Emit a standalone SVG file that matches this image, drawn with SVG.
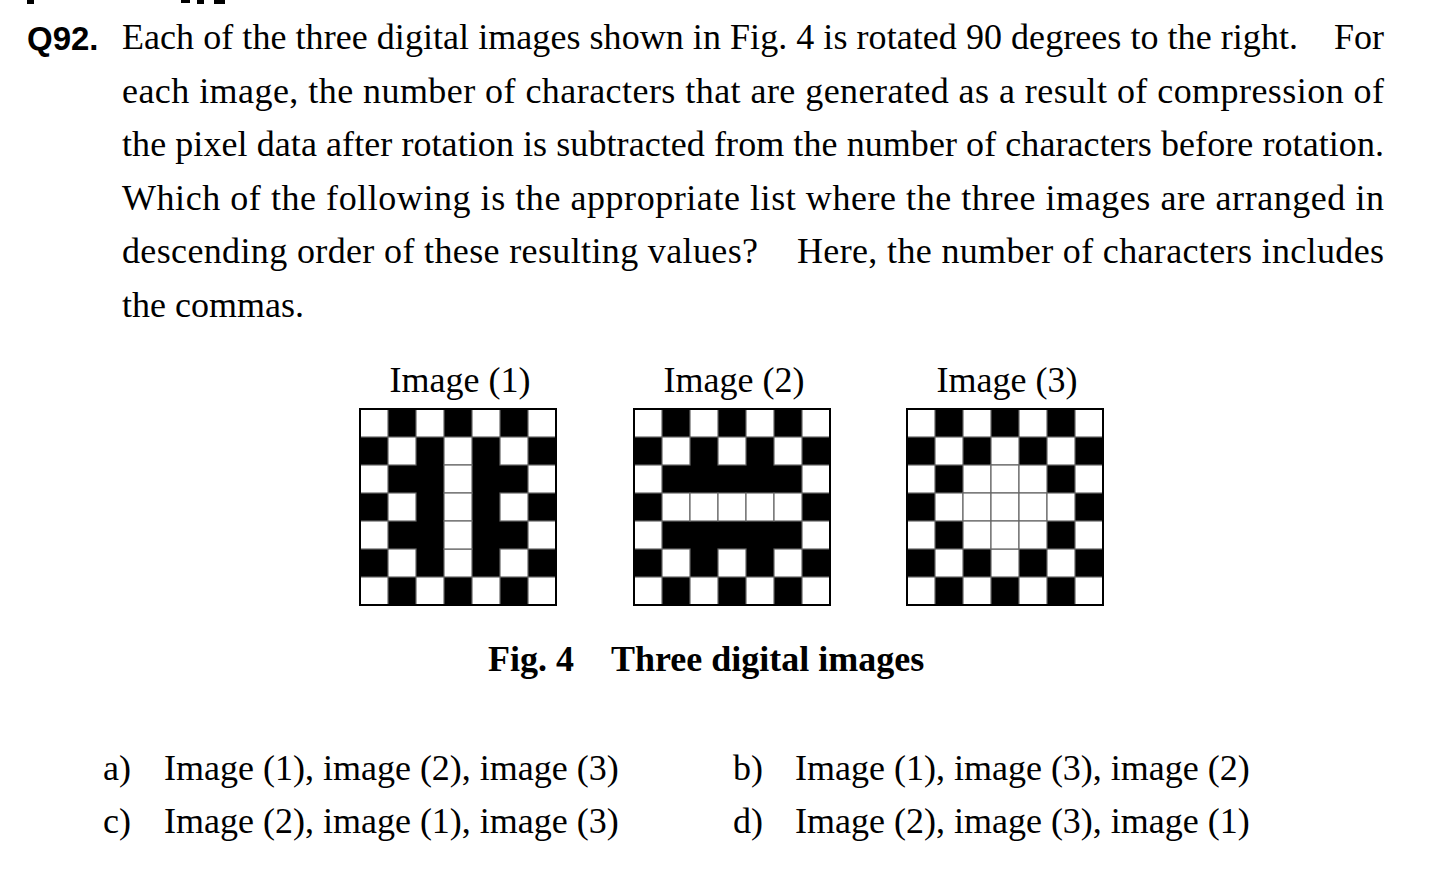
<svg xmlns="http://www.w3.org/2000/svg" xmlns:xlink="http://www.w3.org/1999/xlink" width="1450" height="870" viewBox="0 0 1450 870">
<style>
.t{font-family:"Liberation Serif","Times New Roman",serif;font-size:36px;fill:#000}
.b{font-family:"Liberation Serif","Times New Roman",serif;font-size:36px;font-weight:bold;fill:#000}
.q{font-family:"Liberation Sans",Arial,sans-serif;font-size:33px;font-weight:bold;fill:#000}
.w{fill:#fff;stroke:#666;stroke-width:1.2}
.frame{fill:none;stroke:#000;stroke-width:2}
</style>
<defs>
<rect id="w" class="w" width="28" height="28"/>
<g id="edge">
<use xlink:href="#w" x="0" y="0"/><use xlink:href="#w" x="56" y="0"/><use xlink:href="#w" x="112" y="0"/><use xlink:href="#w" x="168" y="0"/>
<use xlink:href="#w" x="28" y="28"/><use xlink:href="#w" x="84" y="28"/><use xlink:href="#w" x="140" y="28"/>
<use xlink:href="#w" x="28" y="140"/><use xlink:href="#w" x="84" y="140"/><use xlink:href="#w" x="140" y="140"/>
<use xlink:href="#w" x="0" y="168"/><use xlink:href="#w" x="56" y="168"/><use xlink:href="#w" x="112" y="168"/><use xlink:href="#w" x="168" y="168"/>
</g>
</defs>
<rect width="1450" height="870" fill="#fff"/>
<g id="cropped-top" fill="#000">
<rect x="27" y="0" width="7" height="4"/>
<rect x="181" y="0" width="9" height="3"/>
<rect x="197" y="0" width="7" height="4"/>
<rect x="214" y="0" width="11" height="4"/>
</g>
<g id="question">
<text class="q" x="27" y="50">Q92.</text>
<text class="t" x="122" y="49" textLength="1176" lengthAdjust="spacing">Each of the three digital images shown in Fig. 4 is rotated 90 degrees to the right.</text>
<text class="t" x="1384" y="49" text-anchor="end">For</text>
<text class="t" x="122" y="102.6" textLength="1262" lengthAdjust="spacing">each image, the number of characters that are generated as a result of compression of</text>
<text class="t" x="122" y="156.2" textLength="1262" lengthAdjust="spacing">the pixel data after rotation is subtracted from the number of characters before rotation.</text>
<text class="t" x="122" y="209.8" textLength="1262" lengthAdjust="spacing">Which of the following is the appropriate list where the three images are arranged in</text>
<text class="t" x="122" y="263.4" textLength="636" lengthAdjust="spacing">descending order of these resulting values?</text>
<text class="t" x="797" y="263.4" textLength="587" lengthAdjust="spacing">Here, the number of characters includes</text>
<text class="t" x="122" y="317">the commas.</text>
</g>
<g id="image1">
<text class="t" x="460" y="392" text-anchor="middle">Image (1)</text>
<g transform="translate(360,409)">
<rect width="196" height="196" fill="#000"/>
<use xlink:href="#edge"/>
<use xlink:href="#w" x="0" y="56"/><use xlink:href="#w" x="84" y="56"/><use xlink:href="#w" x="168" y="56"/>
<use xlink:href="#w" x="28" y="84"/><use xlink:href="#w" x="84" y="84"/><use xlink:href="#w" x="140" y="84"/>
<use xlink:href="#w" x="0" y="112"/><use xlink:href="#w" x="84" y="112"/><use xlink:href="#w" x="168" y="112"/>
<rect class="frame" width="196" height="196"/>
</g>
</g>
<g id="image2">
<text class="t" x="734" y="392" text-anchor="middle">Image (2)</text>
<g transform="translate(634,409)">
<rect width="196" height="196" fill="#000"/>
<use xlink:href="#edge"/>
<use xlink:href="#w" x="0" y="56"/><use xlink:href="#w" x="168" y="56"/>
<use xlink:href="#w" x="28" y="84"/><use xlink:href="#w" x="56" y="84"/><use xlink:href="#w" x="84" y="84"/><use xlink:href="#w" x="112" y="84"/><use xlink:href="#w" x="140" y="84"/>
<use xlink:href="#w" x="0" y="112"/><use xlink:href="#w" x="168" y="112"/>
<rect class="frame" width="196" height="196"/>
</g>
</g>
<g id="image3">
<text class="t" x="1007" y="392" text-anchor="middle">Image (3)</text>
<g transform="translate(907,409)">
<rect width="196" height="196" fill="#000"/>
<use xlink:href="#edge"/>
<use xlink:href="#w" x="0" y="56"/><use xlink:href="#w" x="56" y="56"/><use xlink:href="#w" x="84" y="56"/><use xlink:href="#w" x="112" y="56"/><use xlink:href="#w" x="168" y="56"/>
<use xlink:href="#w" x="28" y="84"/><use xlink:href="#w" x="56" y="84"/><use xlink:href="#w" x="84" y="84"/><use xlink:href="#w" x="112" y="84"/><use xlink:href="#w" x="140" y="84"/>
<use xlink:href="#w" x="0" y="112"/><use xlink:href="#w" x="56" y="112"/><use xlink:href="#w" x="84" y="112"/><use xlink:href="#w" x="112" y="112"/><use xlink:href="#w" x="168" y="112"/>
<rect class="frame" width="196" height="196"/>
</g>
</g>
<g id="caption">
<text class="b" x="488" y="671">Fig. 4</text>
<text class="b" x="611" y="671">Three digital images</text>
</g>
<g id="options">
<text class="t" x="103" y="780">a)</text>
<text class="t" x="164" y="780">Image (1), image (2), image (3)</text>
<text class="t" x="733" y="780">b)</text>
<text class="t" x="795" y="780">Image (1), image (3), image (2)</text>
<text class="t" x="103" y="833">c)</text>
<text class="t" x="164" y="833">Image (2), image (1), image (3)</text>
<text class="t" x="733" y="833">d)</text>
<text class="t" x="795" y="833">Image (2), image (3), image (1)</text>
</g>
<g id="connectors"/>
</svg>
